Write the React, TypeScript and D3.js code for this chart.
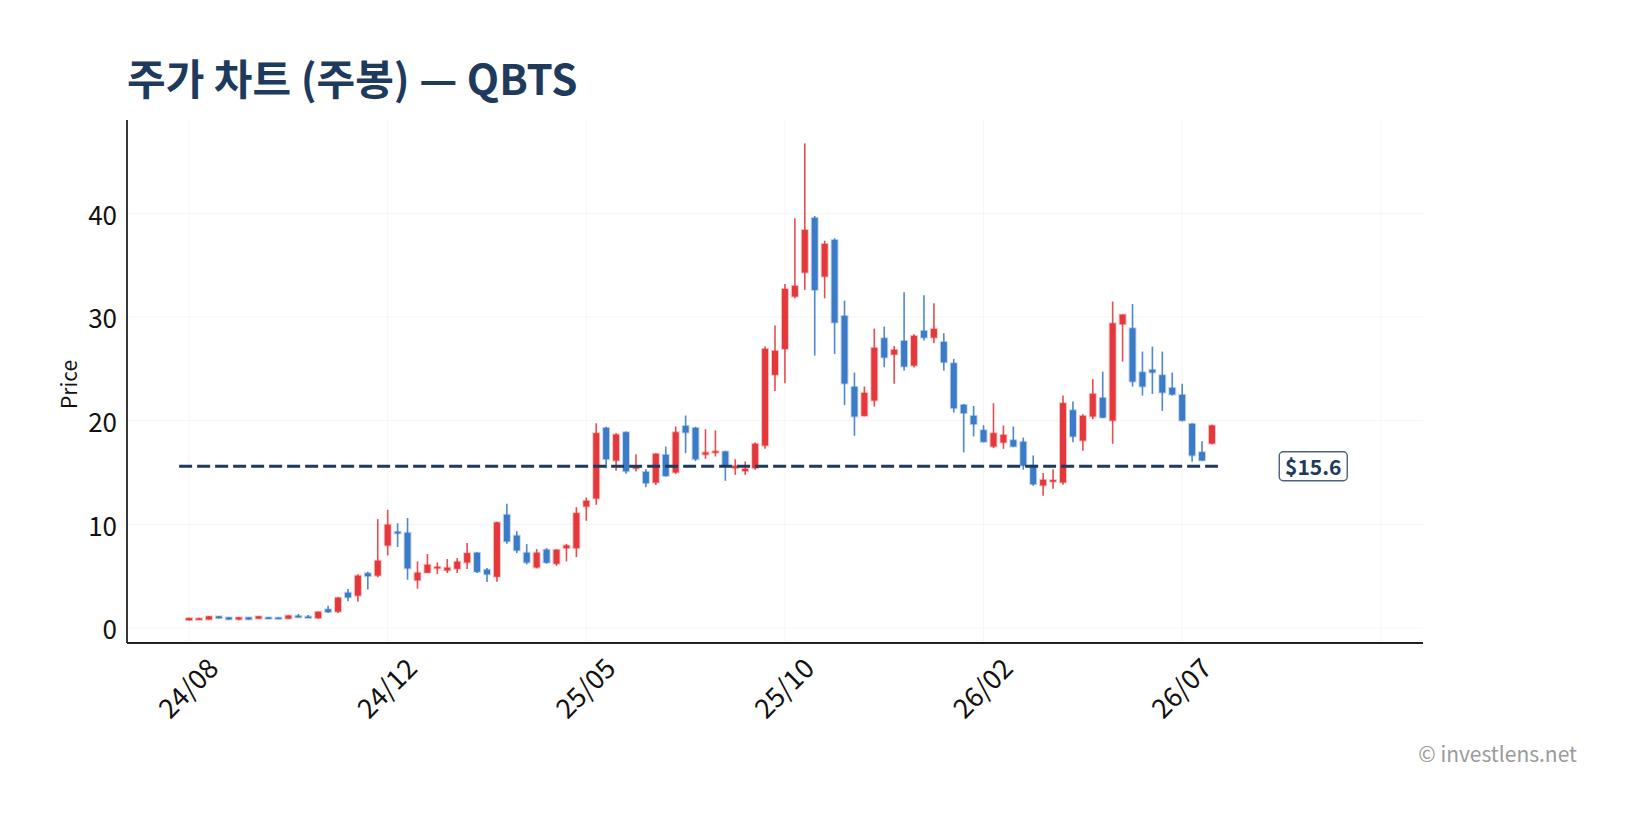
import React from 'react';
import * as d3 from 'd3';

// weekly candles, 24/08 -> 26/07
const opens = [
  0.75, 0.88, 0.82, 1.12, 1.02, 0.82, 1.02, 0.9, 1.02, 1.0, 0.9, 1.18, 1.1, 0.95, 1.8, 1.57, 3.4, 3.12, 5.28, 5.05,
  7.96, 9.28, 9.18, 4.6, 5.33, 5.75, 5.55, 5.71, 6.32, 7.26, 5.62, 4.94, 10.92, 8.9, 7.26, 5.84, 7.55, 6.2, 7.7, 7.7,
  11.72, 12.49, 19.3, 16.15, 18.88, 15.38, 15.06, 14.03, 16.7, 15.0, 19.49, 19.3, 16.73, 16.93, 17.02, 15.42, 15.13, 15.42, 17.6, 24.42,
  26.92, 31.97, 34.28, 39.55, 33.9, 37.43, 30.1, 23.26, 20.46, 21.94, 27.95, 26.38, 27.69, 25.31, 28.66, 28.01, 27.59, 25.54, 21.52, 20.46,
  19.08, 17.51, 17.89, 18.12, 17.96, 15.67, 13.75, 14.13, 14.04, 21.0, 18.08, 20.4, 22.2, 20.01, 29.3, 28.91, 24.67, 24.9, 24.38, 23.16,
  22.49, 19.69, 16.96, 17.79,
];
const highs = [
  0.98, 0.98, 1.15, 1.15, 1.05, 1.06, 1.04, 1.14, 1.06, 1.02, 1.22, 1.34, 1.25, 1.58, 2.15, 2.98, 3.76, 5.17, 5.43, 10.5,
  11.4, 10.1, 10.6, 6.42, 7.13, 6.32, 6.65, 6.74, 8.19, 7.3, 5.78, 10.24, 11.98, 9.34, 8.09, 7.61, 7.7, 7.6, 8.12, 11.65,
  12.59, 19.75, 19.4, 18.79, 18.95, 16.76, 15.32, 16.85, 17.5, 19.43, 20.49, 19.4, 19.17, 19.05, 17.09, 16.28, 16.06, 17.89, 27.15, 29.17,
  33.19, 39.52, 46.74, 39.74, 37.36, 37.59, 31.58, 24.64, 23.29, 28.88, 29.07, 27.21, 32.38, 28.33, 32.1, 31.32, 28.43, 25.96, 21.6, 21.42,
  19.56, 21.68, 19.53, 19.43, 18.37, 16.64, 14.94, 15.32, 22.42, 21.84, 20.62, 24.0, 24.73, 31.48, 30.23, 31.26, 26.66, 27.14, 26.66, 24.64,
  23.55, 19.75, 18.02, 19.6,
];
const lows = [
  0.72, 0.85, 0.8, 0.92, 0.8, 0.74, 0.8, 0.88, 0.92, 0.92, 0.88, 1.0, 0.98, 0.9, 1.45, 1.45, 2.57, 2.54, 3.7, 4.88,
  7.0, 7.8, 4.65, 3.79, 5.3, 5.2, 5.3, 5.3, 5.68, 5.3, 4.43, 4.46, 8.12, 7.22, 6.13, 5.75, 6.2, 6.0, 6.42, 6.83,
  10.34, 11.88, 15.41, 15.16, 14.87, 15.09, 13.58, 13.78, 14.6, 14.87, 16.86, 16.1, 16.32, 16.54, 14.2, 14.77, 14.77, 15.26, 17.28, 22.87,
  23.61, 31.8, 32.61, 26.28, 31.8, 26.44, 21.49, 18.54, 20.4, 21.36, 25.15, 23.55, 24.83, 25.12, 27.72, 27.47, 24.83, 20.78, 16.93, 18.47,
  17.9, 17.35, 17.28, 17.44, 15.26, 13.71, 12.75, 13.42, 13.81, 17.92, 17.09, 20.14, 20.24, 17.76, 25.7, 23.29, 22.42, 22.58, 20.94, 22.42,
  19.95, 16.03, 16.1, 17.73,
];
const closes = [
  0.95, 0.93, 1.12, 0.94, 0.82, 1.02, 0.82, 1.12, 0.94, 0.94, 1.2, 1.02, 1.0, 1.56, 1.54, 2.92, 2.95, 5.04, 5.0, 6.49,
  9.96, 9.12, 5.75, 5.33, 6.1, 5.9, 5.81, 6.39, 7.22, 5.42, 5.17, 10.18, 8.35, 7.48, 6.32, 7.26, 6.3, 7.54, 7.96, 11.08,
  12.27, 18.79, 16.28, 18.66, 15.12, 15.57, 13.97, 16.8, 14.67, 18.88, 18.85, 16.28, 16.93, 17.05, 15.64, 15.64, 15.35, 17.76, 26.92, 26.73,
  32.7, 33.0, 38.39, 32.61, 37.04, 29.46, 23.58, 20.4, 22.68, 27.02, 26.09, 26.83, 25.22, 28.17, 28.01, 28.85, 25.63, 21.2, 20.72, 19.66,
  17.96, 18.79, 18.63, 17.51, 15.67, 13.87, 14.29, 14.26, 21.68, 18.47, 20.46, 22.58, 20.3, 29.39, 30.23, 23.77, 23.29, 24.64, 22.71, 22.52,
  20.01, 16.64, 16.16, 19.53,
];

const tickIdx = [0, 20, 40, 60, 80, 100];
const tickLabels = ['24/08', '24/12', '25/05', '25/10', '26/02', '26/07'];
const gridIdx = [0, 20, 40, 60, 80, 100, 120];
const yTicks = [0, 10, 20, 30, 40];
const refPrice = 15.6;

const W = 1635;
const H = 828;
const margin = { top: 120, right: 212, bottom: 185, left: 127 };
const UP = '#e5383b';
const DOWN = '#3b7bc8';
const NAVY = '#1e3a5c';
const FONT = "'Noto Sans CJK KR', 'Noto Sans', sans-serif";

export default function App() {
  const x = d3
    .scaleLinear()
    .domain([-6.25, 124.25])
    .range([margin.left, W - margin.right]);
  const y = d3
    .scaleLinear()
    .domain([-1.45, 49])
    .range([H - margin.bottom, margin.top]);

  const bodyW = 6;
  const n = opens.length;
  const x0 = margin.left;
  const x1 = W - margin.right;
  const yBottom = H - margin.bottom;
  const labelX = x(n - 1 + 10.2);

  return (
    <svg
      width={W}
      height={H}
      style={{ position: 'absolute', left: 0, top: 0, background: '#fff', fontFamily: FONT }}
    >
      <text x={127} y={95} fontSize={42} fontWeight={700} fill={NAVY}>
        주가 차트 (주봉) — QBTS
      </text>

      {/* grid */}
      {yTicks.map((t) => (
        <line key={'gy' + t} x1={x0} x2={x1} y1={y(t)} y2={y(t)} stroke="#f6f6f6" strokeWidth={1} />
      ))}
      {gridIdx.map((t) => (
        <line key={'gx' + t} x1={x(t)} x2={x(t)} y1={margin.top} y2={yBottom} stroke="#f6f6f6" strokeWidth={1} />
      ))}

      {/* candles */}
      {opens.map((o, i) => {
        const c = closes[i];
        const col = c >= o ? UP : DOWN;
        const top = y(Math.max(o, c));
        const bot = y(Math.min(o, c));
        return (
          <g key={i}>
            <line x1={x(i)} x2={x(i)} y1={y(highs[i])} y2={y(lows[i])} stroke={col} strokeWidth={1.6} strokeOpacity={0.9} />
            <rect
              x={x(i) - bodyW / 2}
              y={top}
              width={bodyW}
              height={Math.max(bot - top, 1.5)}
              fill={col}
              stroke={col}
              strokeOpacity={0.3}
              strokeWidth={2}
            />
          </g>
        );
      })}

      {/* reference price line */}
      <line
        x1={x(-1)}
        x2={x(n - 0.4)}
        y1={y(refPrice)}
        y2={y(refPrice)}
        stroke={NAVY}
        strokeWidth={2.8}
        strokeDasharray="13 5"
      />
      <rect
        x={labelX - 34}
        y={y(refPrice) - 14.5}
        width={68}
        height={29}
        rx={4}
        fill="#fff"
        stroke={NAVY}
        strokeOpacity={0.8}
        strokeWidth={1.4}
      />
      <text
        x={labelX}
        y={y(refPrice)}
        textAnchor="middle"
        dominantBaseline="central"
        fontSize={21}
        fontWeight={700}
        fill={NAVY}
      >
        ${refPrice.toFixed(1)}
      </text>

      {/* axes */}
      <line x1={x0} x2={x0} y1={margin.top} y2={yBottom} stroke="#222" strokeWidth={1.8} />
      <line x1={x0} x2={x1} y1={yBottom} y2={yBottom} stroke="#222" strokeWidth={1.8} />

      {yTicks.map((t) => (
        <text key={'ty' + t} x={117} y={y(t)} textAnchor="end" dominantBaseline="central" fontSize={26} fill="#111">
          {t}
        </text>
      ))}
      {tickIdx.map((t, k) => (
        <text
          key={'tx' + t}
          transform={`translate(${x(t) - 2},${yBottom + 44}) rotate(-45)`}
          textAnchor="middle"
          dominantBaseline="central"
          fontSize={27}
          fill="#111"
        >
          {tickLabels[k]}
        </text>
      ))}
      <text
        transform={`translate(77,${(margin.top + yBottom) / 2 + 3}) rotate(-90)`}
        textAnchor="middle"
        fontSize={21}
        fill="#111"
      >
        Price
      </text>

      <text x={1577} y={762} textAnchor="end" fontSize={21} fill="#9a9a9a">
        © investlens.net
      </text>
    </svg>
  );
}
